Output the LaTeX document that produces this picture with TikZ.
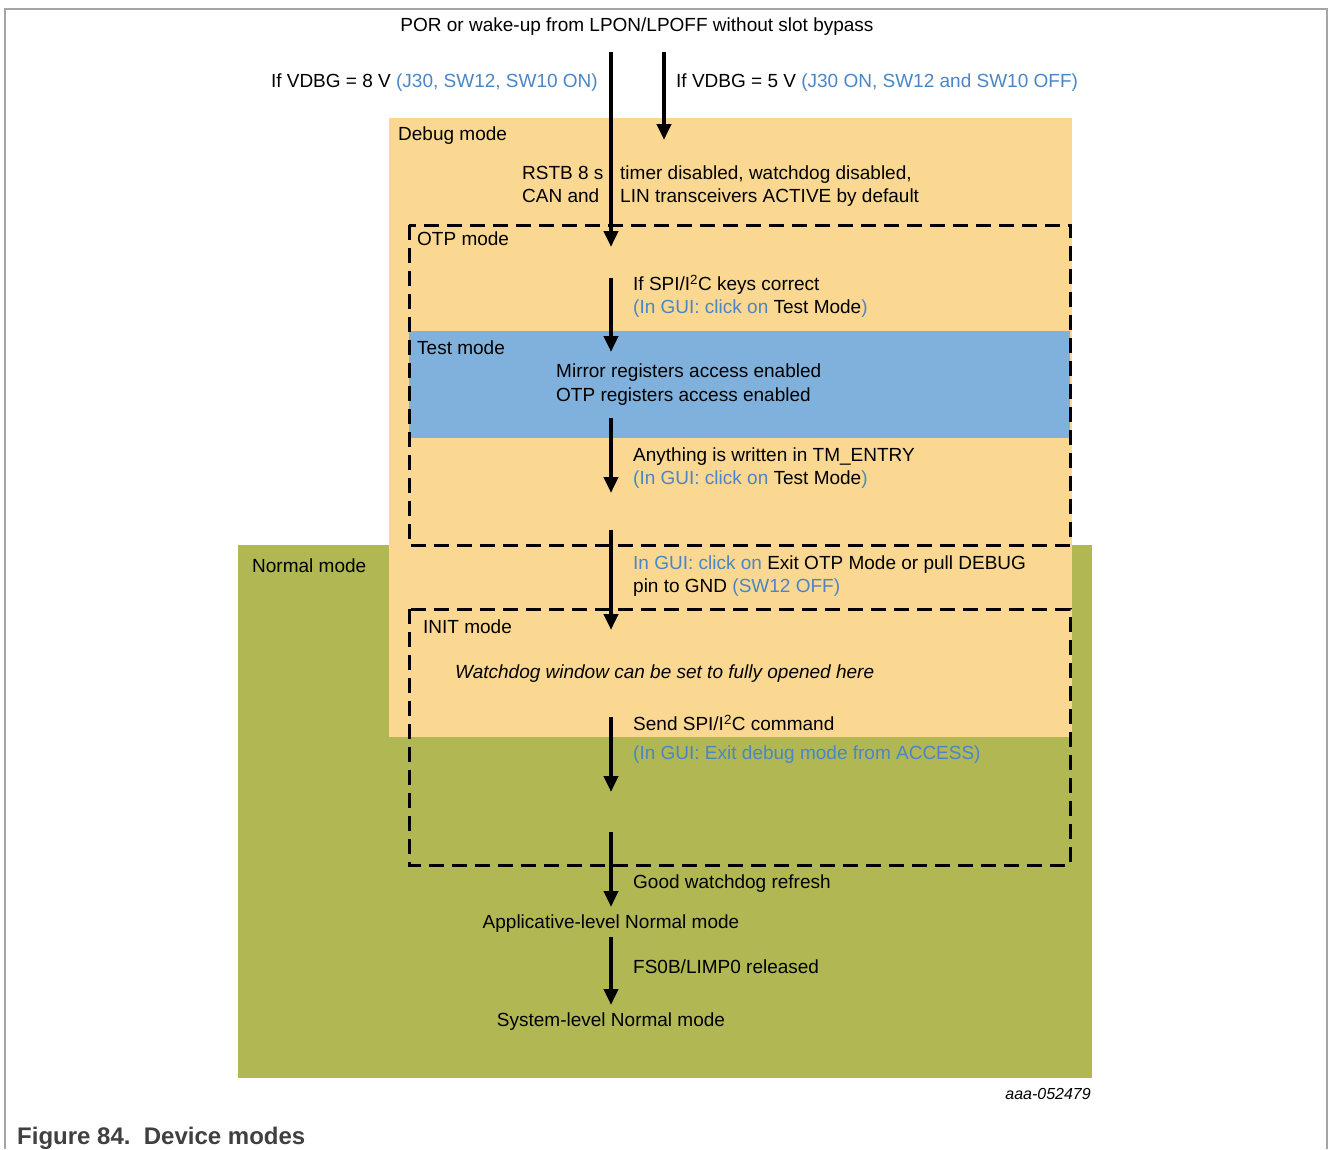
\documentclass[tikz,border=0pt]{standalone}
\usepackage{fontspec}
\setmainfont{Liberation Sans}
\usetikzlibrary{arrows.meta}
\definecolor{dbgfill}{RGB}{251,216,145}
\definecolor{normfill}{RGB}{176,183,83}
\definecolor{testfill}{RGB}{128,177,220}
\definecolor{guiblue}{RGB}{74,134,198}
\definecolor{framegray}{RGB}{165,165,165}
\definecolor{capgray}{RGB}{64,64,64}
\begin{document}
\begin{tikzpicture}[x=1pt,y=-1pt,
  lbl/.style={font=\fontsize{19}{23}\selectfont, inner sep=0pt, anchor=base west},
  lble/.style={lbl, anchor=base east},
  lblc/.style={lbl, anchor=base},
  flow/.style={line width=4pt, -{Triangle[length=16pt,width=14pt]}},
  modebox/.style={draw=black, line width=3pt, dash pattern=on 15pt off 8pt}]
\useasboundingbox (0,0) rectangle (1328,1149);
% frame
\draw[framegray, line width=2pt] (4.5,1149) -- (4.5,8.5) -- (1327,8.5) -- (1327,1149);
% areas
\fill[normfill] (238,545) rectangle (1092,1078);
\fill[dbgfill] (389,118) rectangle (1072,737);
\fill[testfill] (409,331) rectangle (1070,438);
\draw[modebox] (409,225) rectangle (1070,545);
\draw[modebox] (409,609) rectangle (1070,865);
% texts
\node[lblc] (por) at (637,31.5) {POR or wake-up from LPON/LPOFF without slot bypass};
\node[lble] (v8) at (598,87.5) {If VDBG = 8 V \textcolor{guiblue}{(J30, SW12, SW10 ON)}};
\node[lbl] (v5) at (676,87.5) {If VDBG = 5 V \textcolor{guiblue}{(J30 ON, SW12 and SW10 OFF)}};
\node[lbl] (dbg) at (398,140.5) {Debug mode};
\node[lbl] (rstb) at (522,179.5) {RSTB 8 s};
\node[lbl] (can) at (522,202.5) {CAN and};
\node[lbl] (timer) at (620,179.5) {timer disabled, watchdog disabled,};
\node[lbl] (lin) at (620,202.5) {LIN transceivers ACTIVE by default};
\node[lbl] (otp) at (417,245.5) {OTP mode};
\node[lbl] (keys) at (633,290.5) {If SPI/I\textsuperscript{2}C keys correct};
\node[lbl] (gui1) at (633,313.5) {\textcolor{guiblue}{(In GUI: click on }Test Mode\textcolor{guiblue}{)}};
\node[lbl] (test) at (417,354.5) {Test mode};
\node[lbl] (mirror) at (556,377.5) {Mirror registers access enabled};
\node[lbl] (otpreg) at (556,401.5) {OTP registers access enabled};
\node[lbl] (tm) at (633,461.5) {Anything is written in TM\_ENTRY};
\node[lbl] (gui2) at (633,484.5) {\textcolor{guiblue}{(In GUI: click on }Test Mode\textcolor{guiblue}{)}};
\node[lbl] (exit1) at (633,569.5) {\textcolor{guiblue}{In GUI: click on }Exit OTP Mode or pull DEBUG};
\node[lbl] (exit2) at (633,592.5) {pin to GND \textcolor{guiblue}{(SW12 OFF)}};
\node[lbl] (norm) at (252,572.5) {Normal mode};
\node[lbl] (init) at (423,633.5) {INIT mode};
\node[lbl] (wd) at (455,678.5) {\itshape Watchdog window can be set to fully opened here};
\node[lbl] (send) at (633,730.5) {Send SPI/I\textsuperscript{2}C command};
\node[lbl] (gui3) at (633,759.5) {\textcolor{guiblue}{(In GUI: Exit debug mode from ACCESS)}};
\node[lbl] (good) at (633,888.5) {Good watchdog refresh};
\node[lblc] (app) at (611,928.5) {Applicative-level Normal mode};
\node[lbl] (fs0b) at (633,973.5) {FS0B/LIMP0 released};
\node[lblc] (sys) at (611,1026.5) {System-level Normal mode};
\node[lble, font=\fontsize{16}{18}\selectfont\itshape] (ref) at (1091,1099) {aaa-052479};
\node[lbl, font=\fontsize{24}{27}\selectfont\bfseries, text=capgray] (cap) at (17,1144.5) {Figure 84.\ \ Device modes};
% arrows
\coordinate (a1s) at (611,52);  \coordinate (a1e) at (611,247);
\coordinate (a2s) at (664,52);  \coordinate (a2e) at (664,140);
\coordinate (a3s) at (611,278); \coordinate (a3e) at (611,352);
\coordinate (a4s) at (611,418); \coordinate (a4e) at (611,493);
\coordinate (a5s) at (611,530); \coordinate (a5e) at (611,630);
\coordinate (a6s) at (611,717); \coordinate (a6e) at (611,792);
\coordinate (a7s) at (611,832); \coordinate (a7e) at (611,907);
\coordinate (a8s) at (611,937); \coordinate (a8e) at (611,1005);
\draw[flow] (a1s) -- (a1e);
\draw[flow] (a2s) -- (a2e);
\draw[flow] (a3s) -- (a3e);
\draw[flow] (a4s) -- (a4e);
\draw[flow] (a5s) -- (a5e);
\draw[flow] (a6s) -- (a6e);
\draw[flow] (a7s) -- (a7e);
\draw[flow] (a8s) -- (a8e);
\end{tikzpicture}
\end{document}
